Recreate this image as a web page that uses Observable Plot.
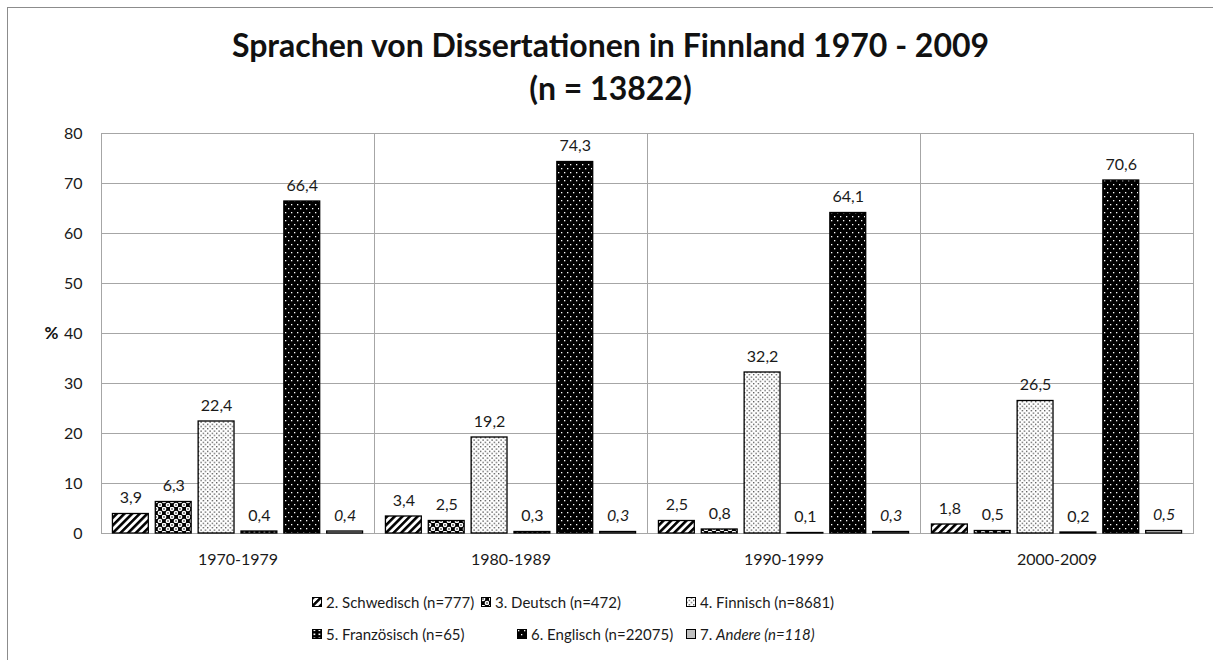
<!DOCTYPE html>
<html>
<head>
<meta charset="utf-8">
<script src="https://cdn.jsdelivr.net/npm/d3@7"></script>
<script src="https://cdn.jsdelivr.net/npm/@observablehq/plot@0.6"></script>
<style>
  html, body { margin: 0; padding: 0; background: #fff; }
  body { width: 1213px; height: 660px; position: relative; overflow: hidden; font-family: Lato, "DejaVu Sans", sans-serif; color: #1a1a1a; }
  #frame { position: absolute; left: 7px; top: 7px; width: 1220px; height: 700px; border-left: 1.5px solid #8c8c8c; border-top: 1.5px solid #8c8c8c; }
  #title { position: absolute; left: 4px; top: 23px; width: 1213px; text-align: center; font-size: 32px; font-weight: bold; line-height: 43px; color: #111; }
  #chart { position: absolute; left: 0; top: 115px; }
  .leg { position: absolute; font-size: 15px; line-height: 18px; color: #1a1a1a; display: flex; align-items: center; white-space: nowrap; }
  .leg svg { margin-right: 4px; }
</style>
</head>
<body>
<svg width="0" height="0" style="position:absolute">
  <defs>
    <pattern id="p-sw" patternUnits="userSpaceOnUse" width="5.4" height="5.4" patternTransform="rotate(45)">
      <rect width="5.4" height="5.4" fill="#fff"/>
      <rect width="2.6" height="5.4" fill="#000"/>
    </pattern>
    <pattern id="p-de" patternUnits="userSpaceOnUse" width="8" height="8">
      <rect width="8" height="8" fill="#000"/>
      <circle cx="2" cy="2" r="2.3" fill="#fff"/>
      <circle cx="6" cy="6" r="2.3" fill="#fff"/>
      <circle cx="2" cy="2" r="0.8" fill="#000"/>
      <circle cx="6" cy="6" r="0.8" fill="#000"/>
    </pattern>
    <pattern id="p-fi" patternUnits="userSpaceOnUse" width="4.5" height="4.5">
      <rect width="4.5" height="4.5" fill="#fff"/>
      <rect x="0.5" y="0.5" width="1.1" height="1.1" fill="#000"/>
      <rect x="2.75" y="2.75" width="1.1" height="1.1" fill="#000"/>
    </pattern>
    <pattern id="p-fr" patternUnits="userSpaceOnUse" width="5" height="4">
      <rect width="5" height="4" fill="#000"/>
      <rect x="1.5" y="0.5" width="1.8" height="1.6" fill="#fff"/>
    </pattern>
    <pattern id="p-en" patternUnits="userSpaceOnUse" width="6" height="8">
      <rect width="6" height="8" fill="#000"/>
      <rect x="1" y="1" width="1.3" height="1.3" fill="#fff"/>
      <rect x="4" y="5" width="1.3" height="1.3" fill="#fff"/>
    </pattern>
  </defs>
</svg>
<div id="frame"></div>
<div id="title">Sprachen von Dissertationen in Finnland 1970 - 2009<br>(n = 13822)</div>
<div id="chart"></div>
<div id="legend"></div>
<script>
// ---- data ----
const periods = ["1970-1979", "1980-1989", "1990-1999", "2000-2009"];
const languages = ["2. Schwedisch", "3. Deutsch", "4. Finnisch", "5. Französisch", "6. Englisch", "7. Andere"];
const legendNumbers = ["(n=777)", "(n=472)", "(n=8681)", "(n=65)", "(n=22075)", "(n=118)"];
const schwedisch = [3.9, 3.4, 2.5, 1.8];
const deutsch = [6.3, 2.5, 0.8, 0.5];
const finnisch = [22.4, 19.2, 32.2, 26.5];
const franzoesisch = [0.4, 0.3, 0.1, 0.2];
const englisch = [66.4, 74.3, 64.1, 70.6];
const andere = [0.4, 0.3, 0.3, 0.5];
const yTicks = [0, 10, 20, 30, 40, 50, 60, 70, 80];

// ---- styling ----
const fills = ["url(#p-sw)", "url(#p-de)", "url(#p-fi)", "url(#p-fr)", "url(#p-en)", "#bfbfbf"];
const series = [schwedisch, deutsch, finnisch, franzoesisch, englisch, andere];

const rows = [];
languages.forEach((lang, li) => {
  periods.forEach((p, pi) => rows.push({period: p, lang, li, value: series[li][pi]}));
});
const fmt = v => v.toFixed(1).replace(".", ",");

const barMarks = languages.map((lang, li) =>
  Plot.barY(rows.filter(d => d.li === li), {
    fx: "period", x: "lang", y: "value",
    fill: fills[li], stroke: "#000", strokeWidth: 1.3
  })
);

const chart = Plot.plot({
  width: 1213,
  height: 458,
  marginTop: 18,
  marginLeft: 99,
  marginRight: 19,
  marginBottom: 40,
  style: {fontFamily: "Lato, 'DejaVu Sans', sans-serif", fontSize: "16px", color: "#1a1a1a", background: "transparent"},
  fx: {domain: periods, padding: 0, label: null, tickSize: 0, tickPadding: 20},
  x: {domain: languages, paddingInner: 0.163, paddingOuter: 0.267, round: false, axis: null},
  y: {domain: [0, 80], ticks: yTicks, tickSize: 0, tickPadding: 19, label: null, tickFormat: d => String(d)},
  marks: [
    Plot.gridY(yTicks, {stroke: "#a6a6a6", strokeOpacity: 1, strokeWidth: 1}),
    Plot.frame({stroke: "#a6a6a6", strokeWidth: 1}),
    ...barMarks,
    Plot.text(rows.filter(d => d.li !== 5), {
      fx: "period", x: "lang", y: "value", text: d => fmt(d.value),
      dy: -16, fontSize: 16, fill: "#1a1a1a"
    }),
    Plot.text(rows.filter(d => d.li === 5), {
      fx: "period", x: "lang", y: "value", text: d => fmt(d.value),
      dy: -16, fontSize: 16, fontStyle: "italic", fill: "#1a1a1a"
    }),
    Plot.text(["%"], {
      fx: () => periods[0], text: d => d, frameAnchor: "left", dx: -57,
      fontWeight: "bold", fontSize: 17, fill: "#111"
    })
  ]
});
document.getElementById("chart").appendChild(chart);

// ---- legend ----
const legendPos = [
  {x: 312, y: 602}, {x: 481, y: 602}, {x: 686, y: 602},
  {x: 312, y: 634}, {x: 517, y: 634}, {x: 686, y: 634}
];
const legend = document.getElementById("legend");
languages.forEach((lang, i) => {
  const div = document.createElement("div");
  div.className = "leg";
  div.style.left = legendPos[i].x + "px";
  div.style.top = (legendPos[i].y - 9) + "px";
  const svg = d3.create("svg").attr("width", 10).attr("height", 10);
  svg.append("rect").attr("x", 0.5).attr("y", 0.5).attr("width", 9).attr("height", 9)
    .attr("fill", fills[i]).attr("stroke", "#000").attr("stroke-width", 1);
  div.appendChild(svg.node());
  const span = document.createElement("span");
  if (i === 5) {
    const num = lang.split(" ")[0];
    const rest = lang.slice(num.length + 1);
    span.innerHTML = num + " <i>" + rest + " " + legendNumbers[i] + "</i>";
  } else {
    span.textContent = lang + " " + legendNumbers[i];
  }
  div.appendChild(span);
  legend.appendChild(div);
});
</script>
</body>
</html>
